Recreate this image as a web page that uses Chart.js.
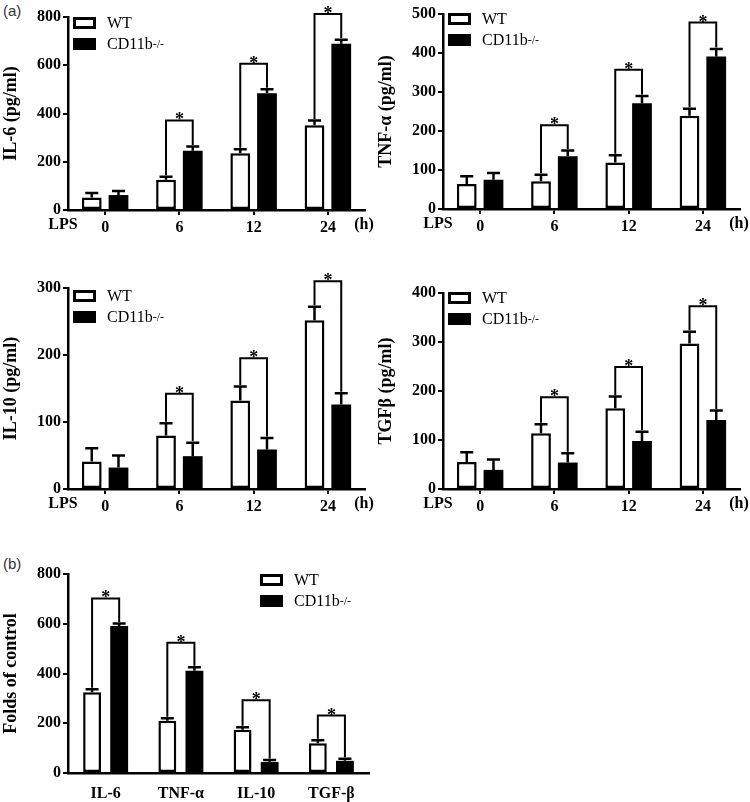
<!DOCTYPE html>
<html>
<head>
<meta charset="utf-8">
<script src="https://cdn.jsdelivr.net/npm/chart.js@4.4.1/dist/chart.umd.min.js"></script>
<style>
  body { margin: 0; width: 750px; height: 802px; position: relative; overflow: hidden; background: #fff; font-family: 'Liberation Serif', 'Times New Roman', serif; }
  canvas { position: absolute; }
  .tag { position: absolute; font: 15px 'Liberation Sans', Arial, sans-serif; color: #333; }
  .lg { position: absolute; font-size: 16px; color: #000; line-height: 1; }
  .lg .row { display: flex; align-items: center; height: 21px; }
  .lg .box { width: 23px; height: 12px; border: 3px solid #000; box-sizing: border-box; margin-right: 11px; }
  .lg .box.ko { background: #000; }
  .lg sup { font-size: 12px; vertical-align: 7px; }
</style>
</head>
<body>
<div class="tag" style="left:3px;top:2px">(a)</div>
<div class="tag" style="left:3px;top:555px">(b)</div>

<canvas id="il6" width="375" height="250" style="left:0;top:0"></canvas>
<canvas id="tnf" width="375" height="250" style="left:375px;top:0"></canvas>
<canvas id="il10" width="375" height="260" style="left:0;top:262px"></canvas>
<canvas id="tgf" width="375" height="260" style="left:375px;top:262px"></canvas>
<canvas id="fold" width="480" height="254" style="left:0;top:548px"></canvas>

<div class="lg" style="left:73px;top:12px"><div class="row"><div class="box"></div>WT</div><div class="row"><div class="box ko"></div>CD11b<sup>-/-</sup></div></div>
<div class="lg" style="left:448px;top:8px"><div class="row"><div class="box"></div>WT</div><div class="row"><div class="box ko"></div>CD11b<sup>-/-</sup></div></div>
<div class="lg" style="left:73px;top:285px"><div class="row"><div class="box"></div>WT</div><div class="row"><div class="box ko"></div>CD11b<sup>-/-</sup></div></div>
<div class="lg" style="left:448px;top:287px"><div class="row"><div class="box"></div>WT</div><div class="row"><div class="box ko"></div>CD11b<sup>-/-</sup></div></div>
<div class="lg" style="left:260px;top:569px"><div class="row"><div class="box"></div>WT</div><div class="row"><div class="box ko"></div>CD11b<sup>-/-</sup></div></div>

<script>
/* Cytokine release, WT vs CD11b-/ */

var TIME_LABELS = ['0', '6', '12', '24'];

var IL6_WT = [52, 125, 235, 351];
var IL6_WT_ERR = [18, 13, 17, 20];
var IL6_KO = [62, 246, 484, 689];
var IL6_KO_ERR = [17, 17, 17, 17];
var IL6_SIG = [null, 371, 606, 812];

var TNF_WT = [64, 71, 119, 239];
var TNF_WT_ERR = [20, 17, 19, 18];
var TNF_KO = [75, 135, 271, 391];
var TNF_KO_ERR = [17, 15, 19, 19];
var TNF_SIG = [null, 215, 357, 478];

var IL10_WT = [41, 80, 132, 252];
var IL10_WT_ERR = [20, 18, 21, 20];
var IL10_KO = [32, 49, 59, 126];
var IL10_KO_ERR = [18, 20, 17, 17];
var IL10_SIG = [null, 142, 195, 310];

var TGF_WT = [55, 114, 165, 297];
var TGF_WT_ERR = [20, 18, 24, 24];
var TGF_KO = [39, 54, 98, 141];
var TGF_KO_ERR = [21, 19, 19, 19];
var TGF_SIG = [null, 187, 249, 373];

var FOLD_LABELS = ['IL-6', 'TNF-\u03b1', 'IL-10', 'TGF-\u03b2'];
var FOLD_WT = [325, 210, 174, 120];
var FOLD_WT_ERR = [12, 10, 10, 12];
var FOLD_KO = [591, 411, 44, 49];
var FOLD_KO_ERR = [10, 14, 8, 8];
var FOLD_SIG = [702, 524, 292, 231];

var SERIF = "'Liberation Serif', 'Times New Roman', serif";
var BLACK = '#000';

/**
 * Draws one-sided error bars, significance brackets with stars,
 * and the "LPS" / "(h)" axis captions.
 */
var marksPlugin = {
  id: 'marks',
  afterDatasetsDraw: function(chart, args, opts) {
    var ctx = chart.ctx, y = chart.scales.y, area = chart.chartArea;
    var caps = [];
    ctx.save();
    ctx.strokeStyle = BLACK;
    ctx.fillStyle = BLACK;
    ctx.lineWidth = 2.5;
    chart.data.datasets.forEach(function(ds, i) {
      var meta = chart.getDatasetMeta(i);
      caps[i] = meta.data.map(function(bar, j) {
        var top = y.getPixelForValue(ds.data[j] + ds.errors[j]);
        ctx.beginPath();
        ctx.moveTo(bar.x, bar.y);
        ctx.lineTo(bar.x, top);
        ctx.moveTo(bar.x - 6.5, top);
        ctx.lineTo(bar.x + 6.5, top);
        ctx.stroke();
        return { x: bar.x, y: top };
      });
    });

    ctx.lineWidth = 2;
    ctx.font = 'bold 18px ' + SERIF;
    ctx.textAlign = 'center';
    ctx.textBaseline = 'alphabetic';
    (opts.sig || []).forEach(function(v, j) {
      if (v == null) return;
      var a = caps[0][j], b = caps[1][j], yb = y.getPixelForValue(v);
      ctx.beginPath();
      ctx.moveTo(a.x, a.y - 1.5);
      ctx.lineTo(a.x, yb);
      ctx.lineTo(b.x, yb);
      ctx.lineTo(b.x, b.y - 1.5);
      ctx.stroke();
      ctx.fillText('*', (a.x + b.x) / 2, yb + 5);
    });

    if (opts.hours) {
      ctx.font = 'bold 16px ' + SERIF;
      ctx.textBaseline = 'middle';
      ctx.fillText('LPS', area.left - 5, area.bottom + 15);
      ctx.fillText('(h)', area.right - 1, area.bottom + 15);
    }
    ctx.restore();
  }
};

/**
 * Build one grouped bar panel. area = [left, top, right, bottom] of the plot box in canvas pixels.
 */
function makePanel(id, cfg) {
  var cv = document.getElementById(id);
  var barPct = cfg.barPct || 0.74;
  new Chart(cv, {
    type: 'bar',
    data: {
      labels: cfg.labels,
      datasets: [
        { label: 'WT', data: cfg.wt, errors: cfg.wtErr, backgroundColor: '#fff', borderColor: BLACK, borderWidth: 2.5, borderSkipped: false, categoryPercentage: 0.72, barPercentage: barPct },
        { label: 'CD11b-/-', data: cfg.ko, errors: cfg.koErr, backgroundColor: BLACK, borderColor: BLACK, borderWidth: 0, categoryPercentage: 0.72, barPercentage: barPct }
      ]
    },
    options: {
      responsive: false, animation: false, events: [],
      layout: { padding: { left: 0, top: cfg.area[1], right: cv.width - cfg.area[2], bottom: 0 } },
      plugins: {
        legend: { display: false },
        tooltip: { enabled: false },
        marks: { sig: cfg.sig, hours: cfg.hours }
      },
      scales: {
        x: {
          afterFit: function(s) { s.height = cv.height - cfg.area[3]; },
          border: { color: BLACK, width: 2.5 },
          grid: { offset: false, drawOnChartArea: false, drawTicks: cfg.hours, tickLength: 5, color: BLACK, lineWidth: 2 },
          ticks: { color: BLACK, padding: cfg.hours ? 3 : 11, maxRotation: 0, font: { family: SERIF, size: 16, weight: 'bold' } }
        },
        y: {
          afterFit: function(s) { s.width = cfg.area[0]; },
          min: 0, max: cfg.max,
          border: { color: BLACK, width: 2.5 },
          grid: { drawOnChartArea: false, tickLength: 5, color: BLACK, lineWidth: 2 },
          ticks: { stepSize: cfg.step, color: BLACK, padding: 2, font: { family: SERIF, size: 16, weight: 'bold' } },
          title: { display: true, text: cfg.title, color: BLACK, padding: { top: 1, bottom: 0 }, font: { family: SERIF, size: 18, weight: 'bold' } }
        }
      }
    },
    plugins: [marksPlugin]
  });
}

makePanel('il6', { labels: TIME_LABELS, wt: IL6_WT, wtErr: IL6_WT_ERR, ko: IL6_KO, koErr: IL6_KO_ERR, sig: IL6_SIG,
  max: 800, step: 200, title: 'IL-6 (pg/ml)', hours: true, area: [68, 17, 365, 210] });
makePanel('tnf', { labels: TIME_LABELS, wt: TNF_WT, wtErr: TNF_WT_ERR, ko: TNF_KO, koErr: TNF_KO_ERR, sig: TNF_SIG,
  max: 500, step: 100, title: 'TNF-\u03b1 (pg/ml)', hours: true, area: [68, 14, 365, 209] });
makePanel('il10', { labels: TIME_LABELS, wt: IL10_WT, wtErr: IL10_WT_ERR, ko: IL10_KO, koErr: IL10_KO_ERR, sig: IL10_SIG,
  max: 300, step: 100, title: 'IL-10 (pg/ml)', hours: true, area: [68, 26, 365, 227] });
makePanel('tgf', { labels: TIME_LABELS, wt: TGF_WT, wtErr: TGF_WT_ERR, ko: TGF_KO, koErr: TGF_KO_ERR, sig: TGF_SIG,
  max: 400, step: 100, title: 'TGF\u03b2 (pg/ml)', hours: true, area: [68, 31, 365, 227] });
makePanel('fold', { labels: FOLD_LABELS, wt: FOLD_WT, wtErr: FOLD_WT_ERR, ko: FOLD_KO, koErr: FOLD_KO_ERR, sig: FOLD_SIG,
  max: 800, step: 200, title: 'Folds of control', hours: false, barPct: 0.66, area: [68, 26, 369, 225] });
</script>
</body>
</html>
